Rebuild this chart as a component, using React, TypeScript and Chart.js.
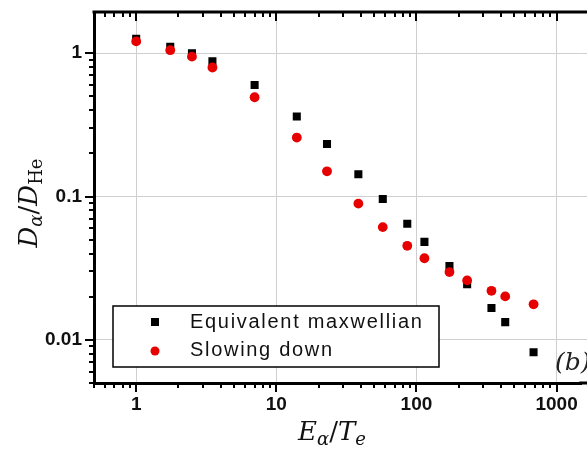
import React, { useEffect, useRef } from "react";
import { Chart, registerables } from "chart.js";

Chart.register(...registerables);

// ---- data ----
const energyRatio = [1, 1.75, 2.5, 3.5, 7, 14, 23, 38.5, 57.5, 86, 114, 172, 230, 343, 430, 685];
const maxwellian = [1.26, 1.11, 1.0, 0.88, 0.6, 0.362, 0.233, 0.143, 0.096, 0.0646, 0.0483, 0.0328, 0.0244, 0.0167, 0.0133, 0.0082];
const slowingDown = [1.21, 1.05, 0.947, 0.795, 0.493, 0.258, 0.15, 0.0893, 0.0612, 0.0453, 0.0371, 0.0297, 0.026, 0.022, 0.0201, 0.0177];
const seriesNames = ["Equivalent maxwellian", "Slowing down"];
const xTickValues = [1, 10, 100, 1000];
const xTickLabels = ["1", "10", "100", "1000"];
const yTickValues = [0.01, 0.1, 1];
const yTickLabels = ["0.01", "0.1", "1"];
const panelLabel = "(b)";

const X_MIN = 0.5;
const X_MAX = 1501;
const Y_MIN = 0.005;
const Y_MAX = 1.94;

const BLACK = "#000000";
const RED = "#e60000";
const GRID = "#cfcfcf";
const MATH_FONT = "'DejaVu Serif', 'Liberation Serif', serif";
const SANS = "'Liberation Sans', Arial, sans-serif";

type Seg = { t: string; sub?: boolean; italic?: boolean };

function drawRich(ctx: CanvasRenderingContext2D, segs: Seg[], size: number, subSize: number, subDrop: number) {
  const fontFor = (s: Seg) => `${s.italic === false ? "" : "italic "}${s.sub ? subSize : size}px ${MATH_FONT}`;
  let total = 0;
  const widths = segs.map((s) => {
    ctx.font = fontFor(s);
    const w = ctx.measureText(s.t).width;
    total += w;
    return w;
  });
  let x = -total / 2;
  ctx.textBaseline = "alphabetic";
  ctx.textAlign = "left";
  segs.forEach((s, i) => {
    ctx.font = fontFor(s);
    ctx.fillText(s.t, x, s.sub ? subDrop : 0);
    x += widths[i];
  });
}

const decorPlugin = {
  id: "decor",
  afterDraw(chart: any) {
    const { ctx, chartArea: ca, scales, width } = chart;
    const xs = scales.x;
    const ys = scales.y;
    ctx.save();

    // continue the plot area to the right edge of the picture
    ctx.fillStyle = "#ffffff";
    ctx.fillRect(ca.right - 1, ca.top, width - ca.right + 1, ca.bottom - ca.top - 2);
    ctx.strokeStyle = GRID;
    ctx.lineWidth = 1;
    for (const v of yTickValues) {
      const py = Math.round(ys.getPixelForValue(v) + 0.5) - 0.5;
      ctx.beginPath();
      ctx.moveTo(ca.right - 1, py);
      ctx.lineTo(width, py);
      ctx.stroke();
    }

    ctx.strokeStyle = BLACK;
    ctx.lineWidth = 2;
    for (let e = -1; e <= 3; e++) {
      for (let m = 1; m <= 9; m++) {
        const v = m * Math.pow(10, e);
        if (v < X_MIN || v > X_MAX) continue;
        const px = Math.round(xs.getPixelForValue(v));
        const len = m === 1 ? 9 : 5;
        ctx.beginPath();
        ctx.moveTo(px, ca.bottom);
        ctx.lineTo(px, ca.bottom + len);
        ctx.moveTo(px, ca.top);
        ctx.lineTo(px, ca.top + len);
        ctx.stroke();
      }
    }
    for (let e = -3; e <= 0; e++) {
      for (let m = 1; m <= 9; m++) {
        const v = m * Math.pow(10, e);
        if (v < Y_MIN || v > Y_MAX) continue;
        const py = Math.round(ys.getPixelForValue(v));
        const len = m === 1 ? 9 : 5;
        ctx.beginPath();
        ctx.moveTo(ca.left - len, py);
        ctx.lineTo(ca.left, py);
        ctx.stroke();
      }
    }
    ctx.lineWidth = 3;
    ctx.beginPath();
    ctx.moveTo(ca.left - 1.5, ca.top);
    ctx.lineTo(width, ca.top);
    ctx.moveTo(ca.right - 2, ca.bottom);
    ctx.lineTo(width, ca.bottom);
    ctx.stroke();

    // legend box
    const lx = 113, ly = 306, lw = 326, lh = 61;
    ctx.fillStyle = "#ffffff";
    ctx.fillRect(lx, ly, lw, lh);
    ctx.lineWidth = 1.5;
    ctx.strokeStyle = BLACK;
    ctx.strokeRect(lx, ly, lw, lh);
    ctx.fillStyle = BLACK;
    ctx.fillRect(155 - 4, 322 - 4, 8, 8);
    ctx.fillStyle = RED;
    ctx.beginPath();
    ctx.arc(155, 351, 4.5, 0, Math.PI * 2);
    ctx.fill();
    ctx.fillStyle = "#111111";
    ctx.font = `20px ${SANS}`;
    (ctx as any).letterSpacing = "1.7px";
    ctx.textAlign = "left";
    ctx.textBaseline = "middle";
    ctx.fillText(seriesNames[0], 190, 322);
    ctx.fillText(seriesNames[1], 190, 350);
    (ctx as any).letterSpacing = "0px";

    // panel label
    ctx.fillStyle = "#222222";
    ctx.font = `italic 25px ${MATH_FONT}`;
    ctx.textBaseline = "middle";
    ctx.fillText(panelLabel, 555, 363);

    // x title
    ctx.fillStyle = "#111111";
    ctx.save();
    ctx.translate(332, 440);
    drawRich(
      ctx,
      [
        { t: "E" },
        { t: "α", sub: true },
        { t: "/", italic: false },
        { t: "T" },
        { t: "e", sub: true },
      ],
      26,
      18,
      5
    );
    ctx.restore();

    // y title
    ctx.save();
    ctx.translate(37, 203);
    ctx.rotate(-Math.PI / 2);
    drawRich(
      ctx,
      [
        { t: "D" },
        { t: "α", sub: true },
        { t: "/", italic: false },
        { t: "D" },
        { t: "He", sub: true, italic: false },
      ],
      26,
      18,
      5
    );
    ctx.restore();

    ctx.restore();
  },
};

export default function App() {
  const ref = useRef<HTMLCanvasElement | null>(null);

  useEffect(() => {
    if (!ref.current) return;
    const chart = new Chart(ref.current, {
      type: "scatter",
      data: {
        datasets: [
          {
            label: seriesNames[0],
            data: energyRatio.map((x, i) => ({ x, y: maxwellian[i] })),
            pointStyle: "rect",
            pointRadius: 5.7,
            pointBorderWidth: 0,
            backgroundColor: BLACK,
            borderColor: BLACK,
            order: 2,
          },
          {
            label: seriesNames[1],
            data: energyRatio.map((x, i) => ({ x, y: slowingDown[i] })),
            pointStyle: "circle",
            pointRadius: 4.9,
            pointBorderWidth: 0,
            backgroundColor: RED,
            borderColor: RED,
            order: 1,
          },
        ],
      },
      options: {
        responsive: false,
        animation: false,
        devicePixelRatio: 1,
        layout: { padding: { top: 12, right: 0, left: 0, bottom: 0 } },
        plugins: {
          legend: { display: false },
          tooltip: { enabled: false },
          title: { display: false },
        },
        scales: {
          x: {
            type: "logarithmic",
            min: X_MIN,
            max: X_MAX,
            position: "bottom",
            afterBuildTicks: (s: any) => {
              s.ticks = xTickValues.map((v) => ({ value: v }));
            },
            afterFit: (s: any) => {
              s.height = 67;
              s.paddingLeft = 0;
              s.paddingRight = 0;
            },
            grid: { color: GRID, lineWidth: 1, drawTicks: false },
            border: { display: true, color: BLACK, width: 3 },
            ticks: {
              padding: 10,
              color: "#111111",
              autoSkip: false,
              maxRotation: 0,
              font: { family: SANS, size: 19, weight: "bold" },
              callback: (v: any) => {
                const i = xTickValues.indexOf(Number(v));
                return i >= 0 ? xTickLabels[i] : "";
              },
            },
          },
          y: {
            type: "logarithmic",
            min: Y_MIN,
            max: Y_MAX,
            position: "left",
            afterBuildTicks: (s: any) => {
              s.ticks = yTickValues.map((v) => ({ value: v }));
            },
            afterFit: (s: any) => {
              s.width = 94;
              s.paddingTop = 0;
              s.paddingBottom = 0;
            },
            grid: { color: GRID, lineWidth: 1, drawTicks: false },
            border: { display: true, color: BLACK, width: 3 },
            ticks: {
              padding: 12,
              color: "#111111",
              autoSkip: false,
              font: { family: SANS, size: 19, weight: "bold" },
              callback: (v: any) => {
                const i = yTickValues.indexOf(Number(v));
                return i >= 0 ? yTickLabels[i] : "";
              },
            },
          },
        },
      },
      plugins: [decorPlugin],
    });
    return () => chart.destroy();
  }, []);

  return (
    <div style={{ position: "absolute", left: 0, top: 0, width: 587, height: 450, background: "#ffffff", overflow: "hidden" }}>
      <canvas ref={ref} width={587} height={450} style={{ display: "block" }} />
    </div>
  );
}
